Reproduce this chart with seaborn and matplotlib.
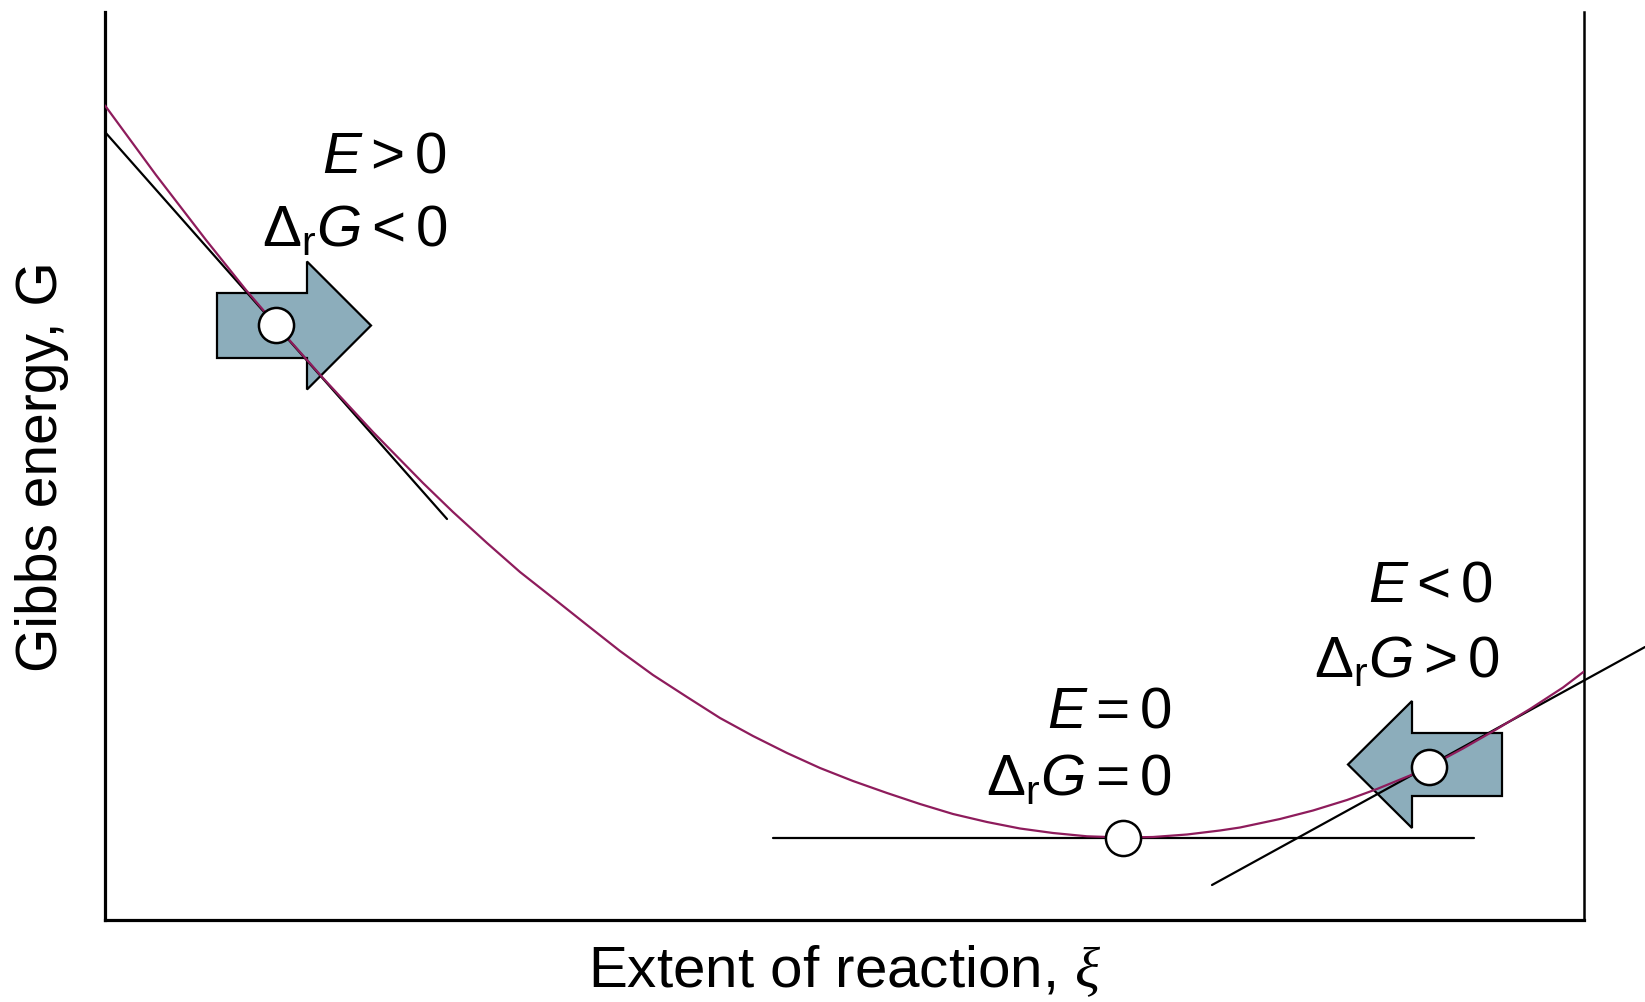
import numpy as np
import pandas as pd
import matplotlib
matplotlib.use("Agg")
import matplotlib.pyplot as plt
from matplotlib.patches import FancyArrow
import seaborn as sns

# ---------------- data (arbitrary units) ----------------
xi_curve = [0, 51, 101, 141, 171, 218, 268, 318, 348, 382, 415, 448, 482, 515,
            548, 582, 615, 648, 682, 715, 748, 782, 815, 848, 882, 915, 948, 982,
            1018, 1048, 1082, 1115, 1135, 1175, 1208, 1242, 1272, 1305, 1324,
            1358, 1392, 1425, 1458, 1479]
g_curve = [814.5, 745, 680, 630, 595, 542, 488, 437, 408, 377, 348, 322, 295, 269,
           245, 223, 202, 184, 167, 152, 139, 127, 116, 106, 98, 91.5, 87, 83.7,
           82.5, 83, 85.5, 89.5, 92.5, 101, 109.5, 120, 131, 144.5, 153.3,
           171.5, 191, 211, 232.5, 248.5]

# tangent lines (end points)
tan_left_x = [0, 342]
tan_left_y = [788, 401]
tan_mid_x = [668, 1369]
tan_mid_y = [82.5, 82.5]
tan_right_x = [1107, 1540]
tan_right_y = [35, 273]

# marked states
state_x = [171, 1018, 1324]
state_y = [595, 82.5, 153.3]

# annotation texts
label_top = [r"$E > 0$", r"$E = 0$", r"$E < 0$"]
label_bot = [r"$\Delta_{\mathrm{r}}G < 0$", r"$\Delta_{\mathrm{r}}G = 0$",
             r"$\Delta_{\mathrm{r}}G > 0$"]

xlabel = r"Extent of reaction, $\mathcal{\xi}$"
ylabel = "Gibbs energy, G"

XMAX, YMAX = 1479, 908

# ---------------- style ----------------
sns.set_theme(style="white")
plt.rcParams["font.family"] = ["Liberation Sans", "DejaVu Sans"]
plt.rcParams["mathtext.fontset"] = "custom"
plt.rcParams["mathtext.rm"] = "Liberation Sans"
plt.rcParams["mathtext.it"] = "Liberation Sans:italic"
plt.rcParams["mathtext.bf"] = "Liberation Sans:bold"
plt.rcParams["mathtext.cal"] = "Liberation Serif:italic"
plt.rcParams["text.color"] = "black"
plt.rcParams["axes.labelcolor"] = "black"

curve_color = "#8E1C5C"
arrow_color = "#8CADBB"

fig = plt.figure(figsize=(16.45, 10.03), dpi=100)
ax = fig.add_axes([105 / 1645, 1 - 921 / 1003, 1479 / 1645, 908 / 1003])
ax.set_xlim(0, XMAX)
ax.set_ylim(0, YMAX)

# block arrows (under the lines)
arrow_kw = dict(length_includes_head=True, facecolor=arrow_color,
                edgecolor="black", linewidth=1.6, zorder=2, joinstyle="miter")
ax.add_patch(FancyArrow(112, 594.5, 154, 0.0, width=65,
                        head_width=128, head_length=64, **arrow_kw))
ax.add_patch(FancyArrow(1397, 155.5, -154, 0.0, width=63,
                        head_width=127, head_length=64, **arrow_kw))

# tangent lines
for tx, ty in [(tan_left_x, tan_left_y), (tan_mid_x, tan_mid_y),
               (tan_right_x, tan_right_y)]:
    sns.lineplot(x=tx, y=ty, ax=ax, color="black", linewidth=1.6,
                 sort=False, estimator=None, zorder=3)
    ax.lines[-1].set_clip_on(False)

# Gibbs energy curve
df = pd.DataFrame({"xi": xi_curve, "G": g_curve})
sns.lineplot(data=df, x="xi", y="G", ax=ax, color=curve_color, linewidth=1.6,
             sort=False, estimator=None, zorder=4)
ax.lines[-1].set_solid_joinstyle("round")

# state markers
sns.scatterplot(x=state_x, y=state_y, ax=ax, s=640, color="white",
                edgecolor="black", linewidth=1.8, zorder=6, clip_on=False)

# annotations
top_pos = [(342, 748), (1067, 193), (1388, 319)]
bot_pos = [(343, 675), (1067, 126), (1395, 244)]
for txt, (x, y) in zip(label_top, top_pos):
    ax.text(x, y, txt, ha="right", va="baseline", fontsize=42, color="black")
for txt, (x, y) in zip(label_bot, bot_pos):
    ax.text(x, y, txt, ha="right", va="baseline", fontsize=42, color="black")

# axes styling
ax.set_xticks([])
ax.set_yticks([])
ax.set_xlabel(xlabel, fontsize=42, labelpad=16)
ax.set_ylabel(ylabel, fontsize=41, labelpad=26)
for side in ["left", "bottom"]:
    ax.spines[side].set_linewidth(2.3)
    ax.spines[side].set_color("black")
ax.spines["right"].set_linewidth(1.8)
ax.spines["right"].set_color("black")
ax.spines["top"].set_visible(False)
ax.set_facecolor("white")
fig.patch.set_facecolor("white")

fig.savefig("out.png", dpi=100, facecolor="white")
